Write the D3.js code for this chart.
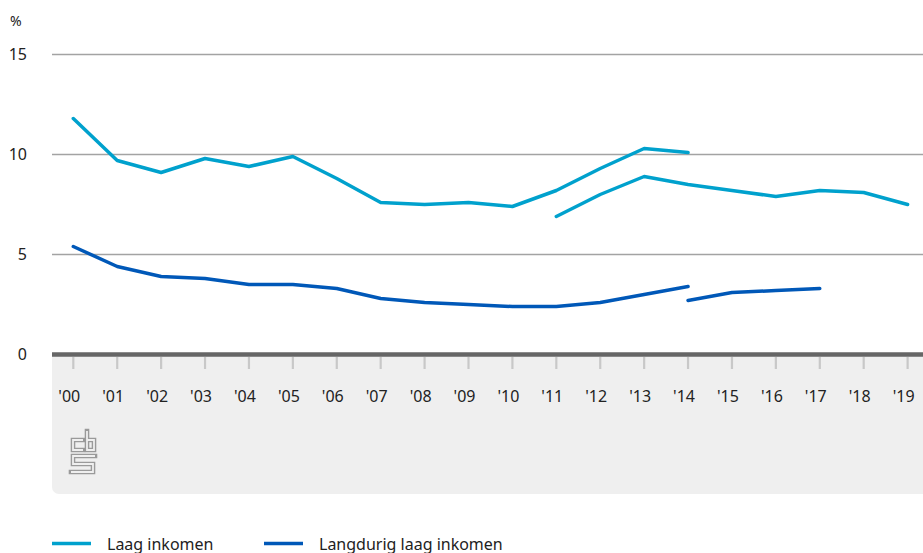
<!DOCTYPE html>
<html>
<head>
<meta charset="utf-8">
<script src="https://cdn.jsdelivr.net/npm/d3@7"></script>
<style>
  html, body { margin: 0; padding: 0; background: #fff; }
  svg { display: block; font-family: "Noto Sans", sans-serif; }
</style>
</head>
<body>
<svg id="chart" width="923" height="553"></svg>
<script>
// Year labels along the x axis
const years = ["'00","'01","'02","'03","'04","'05","'06","'07","'08","'09",
               "'10","'11","'12","'13","'14","'15","'16","'17","'18","'19"];
const yTicks = [0, 5, 10, 15];

// Laag inkomen (%), two segments because of a break in the series
const laagOld = [11.8, 9.7, 9.1, 9.8, 9.4, 9.9, 8.8, 7.6, 7.5, 7.6, 7.4, 8.2, 9.3, 10.3, 10.1]; // '00–'14
const laagNew = [6.9, 8.0, 8.9, 8.5, 8.2, 7.9, 8.2, 8.1, 7.5];                                  // '11–'19

// Langdurig laag inkomen (%)
const langOld = [5.4, 4.4, 3.9, 3.8, 3.5, 3.5, 3.3, 2.8, 2.6, 2.5, 2.4, 2.4, 2.6, 3.0, 3.4];     // '00–'14
const langNew = [2.7, 3.1, 3.2, 3.3];                                                           // '14–'17

const seriesNames = ["Laag inkomen", "Langdurig laag inkomen"];
const colors = ["#00a1cd", "#0058b8"];

const svg = d3.select("#chart");
const left = 52, right = 923;

const x = d3.scalePoint().domain(years).range([73.3, 907.6]);
const y = d3.scaleLinear().domain([0, 15]).range([354.5, 54.5]);

// Grey footer band below the axis, rounded at the bottom-left corner
const bandTop = 355, bandBottom = 494, r = 7;
svg.append("path")
  .attr("d", `M${left},${bandTop} H${right} V${bandBottom} H${left + r} A${r},${r} 0 0 1 ${left},${bandBottom - r} Z`)
  .attr("fill", "#efefef");

// Horizontal gridlines
svg.append("g").selectAll("line")
  .data(yTicks.filter(d => d > 0))
  .join("line")
  .attr("x1", left).attr("x2", right)
  .attr("y1", d => y(d)).attr("y2", d => y(d))
  .attr("stroke", "#a3a3a3").attr("stroke-width", 1.5);

// Y tick labels
svg.append("g").selectAll("text")
  .data(yTicks)
  .join("text")
  .attr("x", 27).attr("y", d => y(d) + 5.5)
  .attr("text-anchor", "end")
  .attr("font-size", 16).attr("fill", "#222")
  .text(d => d);

svg.append("text")
  .attr("x", 10).attr("y", 26)
  .attr("font-size", 14).attr("fill", "#222")
  .text("%");

// X tick marks and labels
const xt = svg.append("g");
xt.selectAll("line")
  .data(years)
  .join("line")
  .attr("x1", d => x(d)).attr("x2", d => x(d))
  .attr("y1", 357).attr("y2", 369)
  .attr("stroke", "#c8c8c8").attr("stroke-width", 2.2);
xt.selectAll("text")
  .data(years)
  .join("text")
  .attr("x", d => x(d) - 4).attr("y", 402)
  .attr("text-anchor", "middle")
  .attr("font-size", 16).attr("fill", "#222")
  .text(d => d);

// Zero axis line
svg.append("line")
  .attr("x1", left).attr("x2", right)
  .attr("y1", y(0)).attr("y2", y(0))
  .attr("stroke", "#666").attr("stroke-width", 4.5);

// Lines
const line = d3.line()
  .x(d => x(d.year))
  .y(d => y(d.value));

const toPoints = (values, start) => values.map((v, i) => ({ year: years[start + i], value: v }));
const segments = [
  { pts: toPoints(laagOld, 0), c: colors[0] },
  { pts: toPoints(laagNew, 11), c: colors[0] },
  { pts: toPoints(langOld, 0), c: colors[1] },
  { pts: toPoints(langNew, 14), c: colors[1] }
];
svg.append("g").selectAll("path")
  .data(segments)
  .join("path")
  .attr("d", d => line(d.pts))
  .attr("fill", "none")
  .attr("stroke", d => d.c)
  .attr("stroke-width", 3.5)
  .attr("stroke-linejoin", "round")
  .attr("stroke-linecap", "round");

// CBS logo: outlined letters drawn as a thick grey stroke with a thinner background-coloured core
const logo = svg.append("g").attr("fill", "none");
const logoPaths = [
  "M83,440 H73 V450 H83",
  "M87,431 V450 H94 V440 H87",
  "M95,456 H73 V464 H93 V472 H71"
];
logo.selectAll("path.outer").data(logoPaths).join("path")
  .attr("class", "outer").attr("d", d => d)
  .attr("stroke", "#9a9a9a").attr("stroke-width", 4.6).attr("stroke-linecap", "square");
logo.selectAll("path.inner").data(logoPaths).join("path")
  .attr("class", "inner").attr("d", d => d)
  .attr("stroke", "#efefef").attr("stroke-width", 1.8).attr("stroke-linecap", "butt");

// Legend
const legend = svg.append("g");
const legendX = [52, 264];
seriesNames.forEach((name, i) => {
  legend.append("line")
    .attr("x1", legendX[i]).attr("x2", legendX[i] + 39)
    .attr("y1", 543.5).attr("y2", 543.5)
    .attr("stroke", colors[i]).attr("stroke-width", 3.5);
  legend.append("text")
    .attr("x", legendX[i] + 55).attr("y", 549.5)
    .attr("font-size", 16).attr("fill", "#222")
    .text(name);
});
</script>
</body>
</html>
